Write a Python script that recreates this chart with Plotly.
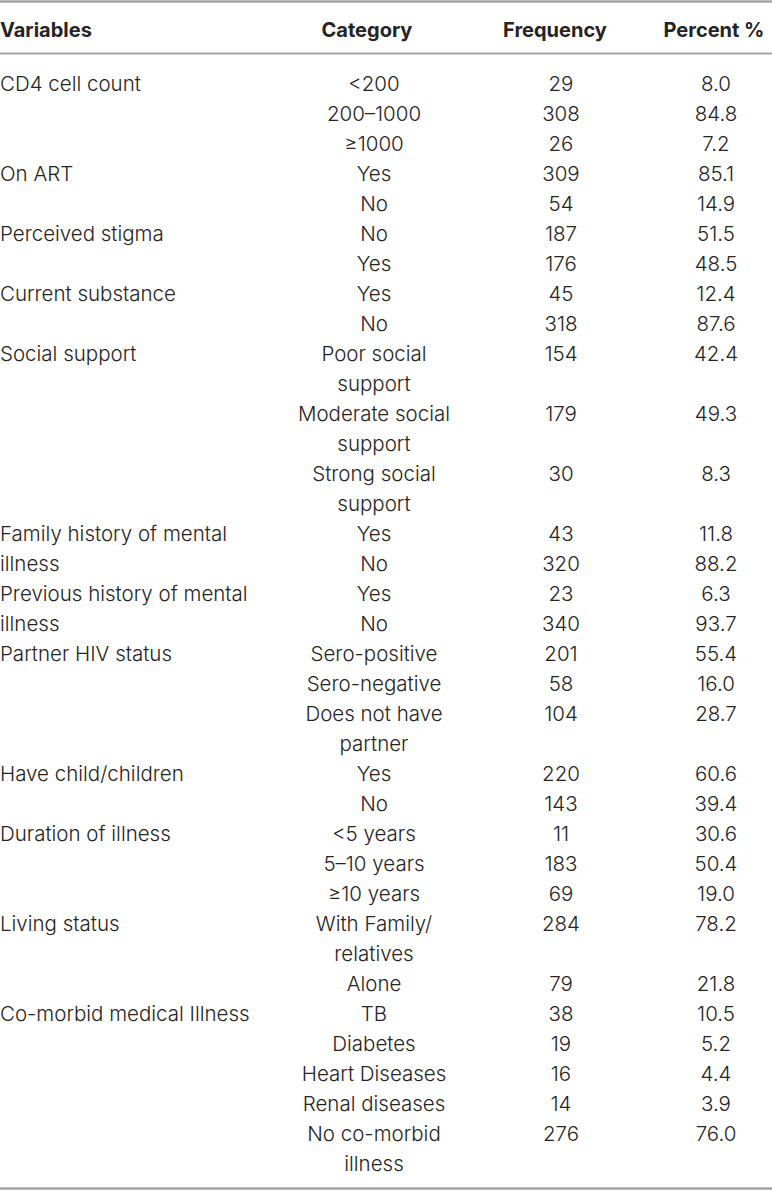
import plotly.graph_objects as go

headers = ["Variables", "Category", "Frequency", "Percent %"]

variables = [
    "CD4 cell count", "", "",
    "On ART", "",
    "Perceived stigma", "",
    "Current substance", "",
    "Social support", "", "",
    "Family history of mental<br>illness", "",
    "Previous history of mental<br>illness", "",
    "Partner HIV status", "", "",
    "Have child/children", "",
    "Duration of illness", "", "",
    "Living status", "",
    "Co-morbid medical Illness", "", "", "", "",
]
categories = [
    "<200", "200–1000", "≥1000",
    "Yes", "No",
    "No", "Yes",
    "Yes", "No",
    "Poor social<br>support", "Moderate social<br>support", "Strong social<br>support",
    "Yes", "No",
    "Yes", "No",
    "Sero-positive", "Sero-negative", "Does not have<br>partner",
    "Yes", "No",
    "<5 years", "5–10 years", "≥10 years",
    "With Family/<br>relatives", "Alone",
    "TB", "Diabetes", "Heart Diseases", "Renal diseases", "No co-morbid<br>illness",
]
frequency = [29, 308, 26, 309, 54, 187, 176, 45, 318, 154, 179, 30, 43, 320, 23, 340,
             201, 58, 104, 220, 143, 11, 183, 69, 284, 79, 38, 19, 16, 14, 276]
percent = ["8.0", "84.8", "7.2", "85.1", "14.9", "51.5", "48.5", "12.4", "87.6", "42.4",
           "49.3", "8.3", "11.8", "88.2", "6.3", "93.7", "55.4", "16.0", "28.7", "60.6",
           "39.4", "30.6", "50.4", "19.0", "78.2", "21.8", "10.5", "5.2", "4.4", "3.9", "76.0"]

W, H = 772, 1191
FONT = "Inter"
TXT = "#262324"
RULE = "#a3a3a3"

# layout geometry (page pixel coordinates)
X_VAR, X_CAT, X_FREQ, X_PCT = 0, 374, 561, 716
HX_CAT, HX_FREQ, HX_PCT = 367, 555, 714
Y_HEAD = 31.5
Y0, DY = 85.5, 30

var_x, var_y, var_t = [], [], []
cat_x, cat_y, cat_t = [], [], []
num_y, freq_t, pct_t = [], [], []
line = 0
for v, c, f, p in zip(variables, categories, frequency, percent):
    y = Y0 + DY * line
    for k, s in enumerate(v.split("<br>") if v else []):
        var_x.append(X_VAR); var_y.append(y + DY * k); var_t.append(s)
    clines = c.split("<br>")
    for k, s in enumerate(clines):
        cat_x.append(X_CAT); cat_y.append(y + DY * k); cat_t.append(s)
    num_y.append(y); freq_t.append(str(f)); pct_t.append(p)
    line += len(clines)

body = dict(family=FONT, size=20.5, color=TXT, weight=300)
head = dict(family=FONT, size=20, color=TXT, weight=700)

common = dict(mode="text", hoverinfo="skip", cliponaxis=False)
fig = go.Figure()
fig.add_trace(go.Scatter(x=var_x, y=var_y, text=var_t, textposition="middle right",
                         textfont=body, **common))
fig.add_trace(go.Scatter(x=cat_x, y=cat_y, text=cat_t, textposition="middle center",
                         textfont=body, **common))
fig.add_trace(go.Scatter(x=[X_FREQ] * len(num_y), y=num_y, text=freq_t,
                         textposition="middle center", textfont=body, **common))
fig.add_trace(go.Scatter(x=[X_PCT] * len(num_y), y=num_y, text=pct_t,
                         textposition="middle center", textfont=body, **common))
fig.add_trace(go.Scatter(x=[X_VAR], y=[Y_HEAD], text=[headers[0]],
                         textposition="middle right", textfont=head, **common))
fig.add_trace(go.Scatter(x=[HX_CAT, HX_FREQ, HX_PCT], y=[Y_HEAD] * 3, text=headers[1:],
                         textposition="middle center", textfont=head, **common))

for yy, wdt in [(1.5, 2.5), (53.5, 1.8), (1188.5, 2.5)]:
    fig.add_shape(type="line", x0=0, x1=W, y0=yy, y1=yy, xref="x", yref="y",
                  line=dict(color=RULE, width=wdt))

fig.update_layout(
    width=W, height=H, margin=dict(l=0, r=0, t=0, b=0),
    paper_bgcolor="white", plot_bgcolor="white", showlegend=False,
    xaxis=dict(range=[0, W], visible=False, fixedrange=True),
    yaxis=dict(range=[H, 0], visible=False, fixedrange=True),
)
fig.write_html("out.html", config={"displayModeBar": False},
               post_script="document.body.style.margin='0';document.body.style.overflow='hidden';")
